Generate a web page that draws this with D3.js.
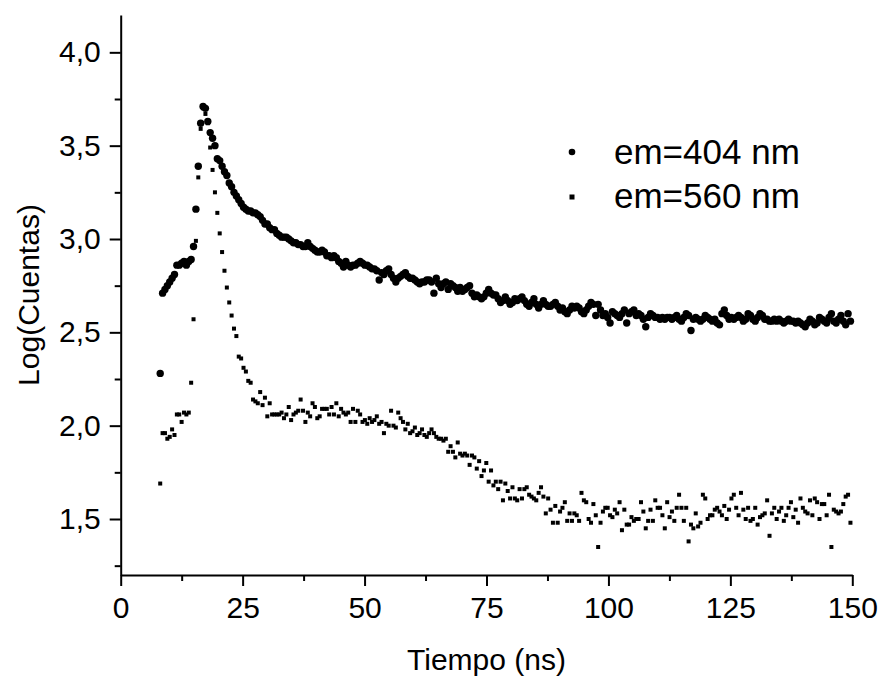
<!DOCTYPE html>
<html>
<head>
<meta charset="utf-8">
<script src="https://cdnjs.cloudflare.com/ajax/libs/d3/7.8.5/d3.min.js"></script>
<style>
  html, body { margin: 0; padding: 0; background: #fff; }
  svg { display: block; }
  text { font-family: "Liberation Sans", Arial, Helvetica, sans-serif; fill: #000; }
</style>
</head>
<body>
<svg id="chart" width="882" height="679"></svg>
<script>
// ---- Data ----
// Regular acquisition grid of the decay histogram (ns)
const timeStart = 8.1;
const timeStep = 0.488;

// Log(Cuentas) for emission at 404 nm (circles)
const em404 = [
  2.28,2.71,2.73,2.75,2.77,2.79,2.81,2.86,2.86,2.87,
  2.88,2.86,2.88,2.89,2.96,3.16,3.39,3.62,3.71,3.70,
  3.63,3.57,3.54,3.50,3.43,3.42,3.39,3.36,3.34,3.30,
  3.28,3.25,3.23,3.21,3.19,3.17,3.16,3.15,3.15,3.14,
  3.14,3.13,3.12,3.10,3.08,3.08,3.06,3.05,3.05,3.03,
  3.02,3.01,3.01,3.01,3.00,2.99,2.98,2.98,2.97,2.97,
  2.96,2.96,2.98,2.96,2.95,2.94,2.93,2.93,2.94,2.93,
  2.91,2.91,2.90,2.91,2.90,2.88,2.87,2.85,2.88,2.86,
  2.85,2.86,2.86,2.87,2.88,2.87,2.86,2.86,2.85,2.84,
  2.84,2.83,2.78,2.82,2.81,2.83,2.84,2.81,2.79,2.77,
  2.79,2.80,2.81,2.82,2.80,2.79,2.79,2.78,2.77,2.76,
  2.77,2.77,2.78,2.78,2.77,2.71,2.79,2.76,2.74,2.76,
  2.77,2.73,2.76,2.75,2.74,2.72,2.74,2.72,2.73,2.74,
  2.75,2.71,2.69,2.70,2.69,2.68,2.69,2.71,2.73,2.71,
  2.70,2.70,2.68,2.66,2.67,2.69,2.67,2.65,2.66,2.68,
  2.67,2.68,2.69,2.67,2.65,2.64,2.66,2.68,2.65,2.63,
  2.65,2.67,2.65,2.64,2.64,2.65,2.66,2.64,2.62,2.63,
  2.61,2.60,2.62,2.64,2.63,2.64,2.63,2.61,2.60,2.62,
  2.64,2.66,2.65,2.59,2.65,2.62,2.59,2.60,2.58,2.55,
  2.61,2.60,2.59,2.58,2.60,2.62,2.55,2.60,2.61,2.62,
  2.59,2.60,2.59,2.57,2.53,2.58,2.60,2.59,2.58,2.58,
  2.57,2.58,2.57,2.58,2.58,2.57,2.58,2.59,2.57,2.56,
  2.58,2.60,2.59,2.51,2.57,2.58,2.57,2.56,2.57,2.59,
  2.58,2.57,2.56,2.57,2.55,2.54,2.60,2.62,2.59,2.57,
  2.58,2.57,2.58,2.59,2.58,2.56,2.57,2.60,2.59,2.57,
  2.56,2.58,2.60,2.59,2.57,2.57,2.56,2.56,2.57,2.56,
  2.57,2.56,2.55,2.56,2.57,2.56,2.56,2.55,2.56,2.55,
  2.54,2.53,2.55,2.57,2.56,2.54,2.55,2.58,2.57,2.56,
  2.55,2.58,2.60,2.56,2.55,2.57,2.59,2.56,2.54,2.60,
  2.56
];

// Log(Cuentas) for emission at 560 nm (squares)
const em560 = [
  1.69,1.96,1.96,1.93,1.94,1.98,1.95,2.06,2.06,2.02,
  2.07,2.06,2.07,2.23,2.57,2.99,3.33,3.59,3.70,3.67,
  3.62,3.49,3.37,3.25,3.14,3.03,2.93,2.83,2.74,2.66,
  2.59,2.52,2.48,2.37,2.36,2.31,2.29,2.24,2.23,2.14,
  2.13,2.12,2.18,2.11,2.15,2.05,2.12,2.06,2.06,2.06,
  2.06,2.07,2.04,2.06,2.10,2.03,2.06,2.07,2.08,2.14,
  2.08,2.02,2.07,2.05,2.12,2.10,2.04,2.05,2.09,2.09,
  2.09,2.06,2.10,2.06,2.12,2.05,2.09,2.07,2.06,2.07,
  2.02,2.09,2.02,2.08,2.06,2.02,2.03,2.01,2.04,2.02,
  2.03,2.05,2.01,2.02,1.96,2.01,2.00,2.08,2.00,1.99,
  2.07,2.04,2.02,1.98,2.01,1.96,1.97,1.99,1.95,1.96,
  1.98,1.95,1.94,1.96,1.98,1.96,1.94,1.93,1.93,1.92,
  1.93,1.86,1.89,1.86,1.83,1.91,1.85,1.84,1.85,1.84,
  1.79,1.84,1.83,1.77,1.81,1.73,1.76,1.80,1.70,1.76,
  1.68,1.70,1.66,1.70,1.60,1.69,1.65,1.61,1.67,1.61,
  1.60,1.66,1.61,1.66,1.67,1.63,1.62,1.61,1.60,1.64,
  1.67,1.62,1.53,1.61,1.55,1.48,1.57,1.48,1.54,1.56,
  1.59,1.49,1.53,1.49,1.53,1.52,1.49,1.64,1.60,1.59,
  1.50,1.48,1.58,1.52,1.35,1.48,1.54,1.56,1.56,1.52,
  1.51,1.55,1.53,1.59,1.44,1.55,1.47,1.47,1.51,1.49,
  1.50,1.50,1.59,1.54,1.45,1.49,1.55,1.49,1.60,1.56,
  1.56,1.52,1.45,1.59,1.51,1.54,1.49,1.56,1.63,1.56,
  1.49,1.56,1.38,1.47,1.45,1.53,1.46,1.48,1.63,1.61,
  1.50,1.52,1.52,1.55,1.56,1.54,1.52,1.57,1.50,1.55,
  1.61,1.63,1.56,1.52,1.64,1.55,1.50,1.56,1.49,1.50,
  1.56,1.47,1.51,1.52,1.53,1.60,1.41,1.53,1.56,1.50,
  1.54,1.56,1.49,1.52,1.56,1.59,1.51,1.55,1.48,1.61,
  1.56,1.54,1.53,1.60,1.52,1.61,1.59,1.50,1.58,1.58,
  1.52,1.63,1.35,1.55,1.54,1.53,1.54,1.58,1.62,1.63,
  1.48
];

const xMajorTicks = [0, 25, 50, 75, 100, 125, 150];
const xMinorTicks = [12.5, 37.5, 62.5, 87.5, 112.5, 137.5];
const yMajorTicks = [1.5, 2.0, 2.5, 3.0, 3.5, 4.0];
const yMinorTicks = [1.25, 1.75, 2.25, 2.75, 3.25, 3.75];
const legendLabels = ["em=404 nm", "em=560 nm"];
const xTitle = "Tiempo (ns)";
const yTitle = "Log(Cuentas)";

// ---- Drawing ----
const svg = d3.select("#chart");
const plotLeft = 120.7, plotRight = 852.3, plotTop = 15, plotBottom = 575;

const x = d3.scaleLinear().domain([0, 150]).range([plotLeft, plotRight]);
const y = d3.scaleLinear().domain([1.2, 4.2]).range([plotBottom, plotTop]);

const fmt = v => d3.format(".1f")(v).replace(".", ",");

const pts404 = em404.map((v, i) => ({ t: timeStart + i * timeStep, v }));
const pts560 = em560.map((v, i) => ({ t: timeStart + i * timeStep, v }));

// squares (560 nm) drawn first, circles on top
const sq = 4;
svg.append("g").selectAll("rect").data(pts560).join("rect")
  .attr("x", d => x(d.t) - sq / 2)
  .attr("y", d => y(d.v) - sq / 2)
  .attr("width", sq).attr("height", sq)
  .attr("fill", "#000");

svg.append("g").selectAll("circle").data(pts404).join("circle")
  .attr("cx", d => x(d.t))
  .attr("cy", d => y(d.v))
  .attr("r", 3.7)
  .attr("fill", "#000");

// axes
svg.append("g").attr("transform", `translate(0,${plotBottom})`)
  .call(d3.axisBottom(x).tickValues(xMajorTicks).tickSize(11).tickSizeOuter(0).tickPadding(11).tickFormat(d3.format("d")));
svg.append("g").attr("transform", `translate(0,${plotBottom})`)
  .call(d3.axisBottom(x).tickValues(xMinorTicks).tickSize(6).tickSizeOuter(0).tickFormat(""))
  .select(".domain").remove();

svg.append("g").attr("transform", `translate(${plotLeft},0)`)
  .call(d3.axisLeft(y).tickValues(yMajorTicks).tickSize(11).tickSizeOuter(0).tickPadding(9).tickFormat(fmt));
svg.append("g").attr("transform", `translate(${plotLeft},0)`)
  .call(d3.axisLeft(y).tickValues(yMinorTicks).tickSize(6).tickSizeOuter(0).tickFormat(""))
  .select(".domain").remove();

svg.selectAll(".domain").attr("stroke", "#000").attr("stroke-width", 2);
svg.selectAll(".tick line").attr("stroke", "#000").attr("stroke-width", 2);
svg.selectAll(".tick text")
  .style("font-family", '"Liberation Sans", Arial, sans-serif')
  .style("font-size", "30px").attr("fill", "#000");

// axis titles
svg.append("text")
  .attr("x", (plotLeft + plotRight) / 2).attr("y", 670)
  .attr("text-anchor", "middle")
  .style("font-size", "30px")
  .text(xTitle);

svg.append("text")
  .attr("transform", `translate(38.5,${(plotTop + plotBottom) / 2}) rotate(-90)`)
  .attr("text-anchor", "middle")
  .style("font-size", "30px")
  .text(yTitle);

// legend
const lg = svg.append("g");
lg.append("circle").attr("cx", 572).attr("cy", 152).attr("r", 3.3).attr("fill", "#000");
lg.append("rect").attr("x", 572 - 2.5).attr("y", 197 - 2.5).attr("width", 5).attr("height", 5).attr("fill", "#000");
lg.append("text").attr("x", 614).attr("y", 164).style("font-size", "35px").text(legendLabels[0]);
lg.append("text").attr("x", 614).attr("y", 208).style("font-size", "35px").text(legendLabels[1]);
</script>
</body>
</html>
